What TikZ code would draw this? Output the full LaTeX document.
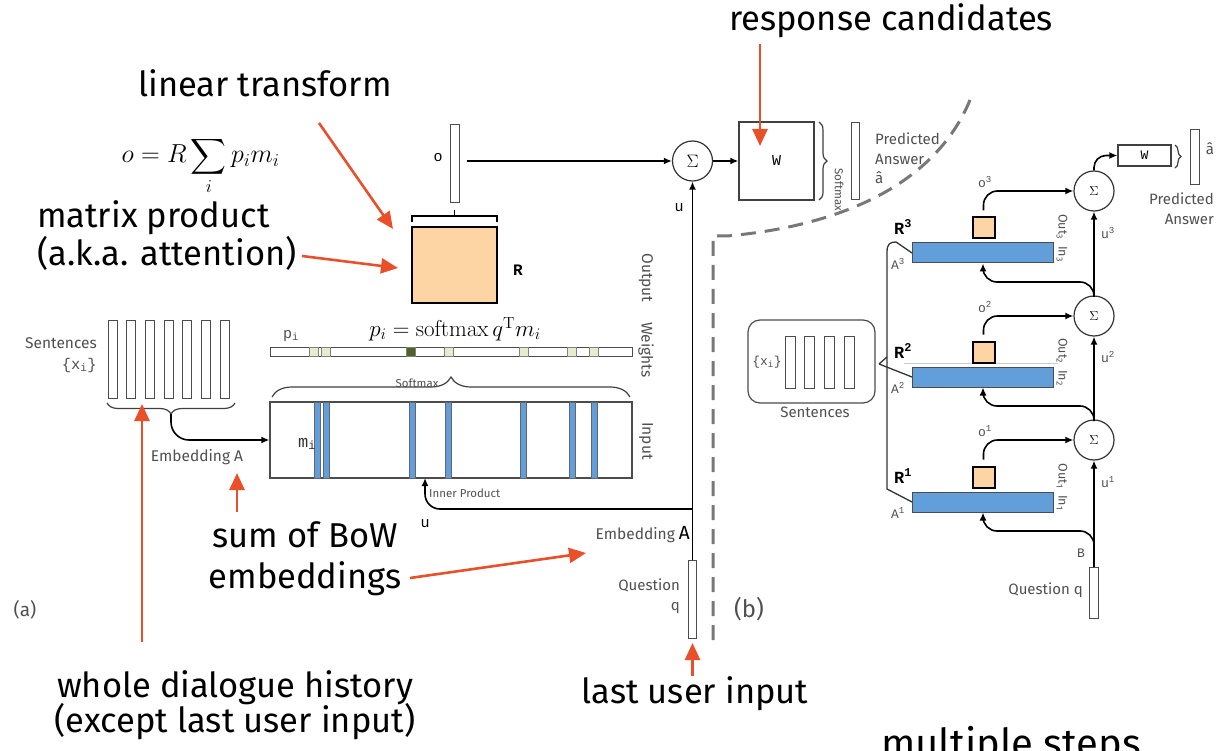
\documentclass[tikz,border=0pt]{standalone}
\usepackage{fix-cm}
\usepackage{exscale}
\usepackage[no-math]{fontspec}
\setmainfont{Fira Sans}
\setmonofont{Liberation Mono}
\usetikzlibrary{arrows.meta,decorations.pathreplacing,calc}

\definecolor{hl}{RGB}{233,80,42}
\definecolor{ora}{RGB}{253,213,165}
\definecolor{blu}{RGB}{98,158,217}
\definecolor{gtx}{RGB}{80,80,80}
\definecolor{lgr}{RGB}{228,237,206}
\definecolor{dgr}{RGB}{79,98,40}
\definecolor{dsh}{RGB}{120,120,120}

\newcommand\fBig{\fontsize{34.5}{40}\selectfont}
\newcommand\fLab{\fontsize{15.5}{18}\selectfont}
\newcommand\fTiny{\fontsize{11.5}{13}\selectfont}
\newcommand\fMono{\fontsize{15}{17}\selectfont\ttfamily}

\tikzset{
  note/.style={font=\fBig, inner sep=0pt},
  lab/.style={font=\fLab, text=gtx, inner sep=0pt},
  tiny/.style={font=\fTiny, text=gtx, inner sep=0pt},
  mono/.style={font=\fMono, inner sep=0pt},
  hlarrow/.style={draw=hl, line width=2.6pt, -{Triangle[length=17pt,width=15pt]}},
  flow/.style={draw=black, line width=1.6pt, -{Latex[length=8pt,width=7pt]}},
  vecbox/.style={draw=black!70, line width=1pt, fill=white, inner sep=0pt, minimum width=9pt},
  sumnode/.style={circle, draw=black!80, line width=1.2pt, fill=white, minimum size=40pt, inner sep=0pt},
  mat/.style={draw=black, line width=2.2pt, fill=ora, inner sep=0pt},
  layer/.style={draw=black!70, line width=1pt, fill=blu, inner sep=0pt, minimum width=141pt, minimum height=20pt},
  slot/.style={draw=black!60, line width=0.6pt, fill=blu, inner sep=0pt, minimum width=6pt, minimum height=76pt},
  cell/.style={draw=black!50, line width=0.6pt, fill=lgr, inner sep=0pt, minimum width=9pt, minimum height=9pt},
  curly/.style={decorate, decoration={brace, amplitude=#1}, draw=black!75, line width=1.2pt},
}

\begin{document}
\begin{tikzpicture}[x=1pt,y=-1pt]
\clip (0,0) rectangle (1226,751);
\fill[white] (0,0) rectangle (1226,751);

% ================= (a) single hop =================
% story sentences
\foreach \i in {0,...,6}
  \node[vecbox, minimum height=78pt] (x\i) at ({112.5+18.67*\i},359) {};
\node[lab, anchor=east] (sentL) at (97,343) {Sentences};
\node[lab, anchor=east, font=\fLab\ttfamily] (xiL) at (97,365) {\{x\textsubscript{i}\}};
\draw[curly=11pt] (235,403) -- (107,403);
\coordinate (btip) at (171,414);
\node[lab] (embA) at (197,457) {Embedding A};

% memory (input)
\node[draw=black!70, line width=1.2pt, minimum width=362pt, minimum height=76pt, inner sep=0pt] (mem) at (451,440) {};
\foreach \x [count=\k] in {317.5,326,412,448.5,523.5,572,594.5}
  \node[slot] (slot\k) at (\x,440) {};
\node[font=\fontsize{17}{19}\selectfont\ttfamily, text=black!80, inner sep=0pt] (miL) at (307,444) {m\textsubscript{i}};
\draw[flow, rounded corners=18pt] (btip) |- (mem.west);

% attention weights
\node[draw=black!70, line width=1pt, fill=white, minimum width=362pt, minimum height=9pt, inner sep=0pt] (wts) at (451,351.5) {};
\foreach \x [count=\k] in {313.5,326,448.5,523.5,572,594}
  \node[cell] (cell\k) at (\x,351.5) {};
\node[cell, fill=dgr] (cellD) at (411,351.5) {};
\node[mono, text=gtx] (piL) at (291,336) {p\textsubscript{i}};
\node[font=\fontsize{23}{27}\selectfont, inner sep=0pt] (pform) at (455,329) {$p_i = \mathrm{softmax}\,q^{\mathrm{T}} m_i$};
\draw[curly=20pt] (272,397) -- (630,397);
\node[tiny] (smL) at (417,383) {Softmax};

% side captions
\node[lab, rotate=-90] (outC) at (646,278) {Output};
\node[lab, rotate=-90] (wtsC) at (646,350) {Weights};
\node[lab, rotate=-90] (inC) at (646,441) {Input};

% output projection R and response vector o
\node[mat, minimum width=85pt, minimum height=76pt] (R) at (454.5,265) {};
\node[font=\fontsize{16}{18}\selectfont\ttfamily\bfseries, inner sep=0pt] (RL) at (518,270) {R};
\draw[black, line width=1.6pt] (412,222) -- (412,216) -- (497,216) -- (497,222)
  (454.5,216) -- (454.5,210);
\node[vecbox, minimum height=78pt] (ov) at (454.5,164) {};
\node[mono] (oL) at (438,158) {o};

% sum, candidates W, answer
\node[sumnode, font=\fontsize{18}{20}\selectfont] (sigA) at (692.5,161) {$\Sigma$};
\draw[flow] ($(ov.east|-sigA.center)+(7,0)$) -- (sigA.west);
\node[draw=black!75, line width=1.3pt, minimum width=75pt, minimum height=78pt, inner sep=0pt, font=\fontsize{15}{17}\selectfont\ttfamily] (W) at (776.5,161) {W};
\draw[flow] (sigA.east) -- (W.west);
\draw[curly=8pt] (819,122) -- (819,200);
\node[tiny, rotate=-90] (smR) at (839,190) {Softmax};
\node[vecbox, minimum width=8pt, minimum height=77pt] (ans) at (855,161.5) {};
\node[lab, align=left, anchor=north west, font=\fontsize{15}{19.5}\selectfont] (predA) at (875,133) {Predicted\\Answer\\â};

% question
\node[vecbox, minimum width=8pt, minimum height=78pt] (qA) at (692.5,599) {};
\draw[flow] (qA.north) -- (sigA.south);
\node[mono] (uA) at (679,208) {u};
\coordinate (jn) at (692.5,509);
\coordinate (ipin) at (425,478);
\draw[flow, rounded corners=15pt] (jn) -| (ipin);
\node[tiny, anchor=west] (ipL) at (429,493) {Inner Product};
\node[mono] (uA2) at (425,524) {u};
\node[lab, anchor=base east] (embB) at (690,539) {Embedding \textcolor{black}{\fontsize{19}{21}\selectfont A}};
\node[lab, anchor=east, align=right, font=\fontsize{15}{20}\selectfont] (qLab) at (680,596) {Question\\q};

% annotations
\node[note, anchor=base] (linL) at (265,97) {linear transform};
\node[font=\fontsize{26}{30}\selectfont, inner sep=0pt, anchor=base] (oform) at (200.5,163) {$\displaystyle o = R\sum_i p_i m_i$};
\node[note, anchor=base west] (matL) at (37,228) {matrix product};
\node[note, anchor=base west] (akaL) at (37,266) {(a.k.a. attention)};
\coordinate (linS) at (319,123);
\coordinate (linT) at (393,229);
\draw[hlarrow] (linS) -- (linT);
\coordinate (akaS) at (302,256);
\coordinate (akaT) at (398,268);
\draw[hlarrow] (akaS) -- (akaT);
\node[note, anchor=base] (sumL) at (305,547) {sum of BoW};
\node[note, anchor=base] (embL) at (305,588) {embeddings};
\coordinate (bowS) at (237,512);
\coordinate (bowT) at (237,473);
\draw[hlarrow] (bowS) -- (bowT);
\coordinate (embS) at (410,578);
\coordinate (embT) at (586,553);
\draw[hlarrow] (embS) -- (embT);
\node[note, anchor=base] (whoL) at (235,697) {whole dialogue history};
\node[note, anchor=base] (excL) at (235,732) {(except last user input)};
\coordinate (histS) at (142,642);
\coordinate (histT) at (142,404);
\draw[hlarrow] (histS) -- (histT);
\node[note, anchor=base] (lastL) at (695,703) {last user input};
\coordinate (lastS) at (692.5,676);
\coordinate (lastT) at (692.5,643);
\draw[hlarrow] (lastS) -- (lastT);
\node[note, anchor=base] (respL) at (891,31) {response candidates};
\coordinate (respS) at (760,44);
\coordinate (respT) at (760,146);
\draw[hlarrow] (respS) -- (respT);
\node[lab, font=\fontsize{19}{22}\selectfont] (aL) at (25,610) {(a)};
\node[lab, font=\fontsize{24}{28}\selectfont] (bL) at (749,609) {(b)};

% separator
\draw[dsh, line width=3pt, dash pattern=on 15pt off 9pt]
  (713,640) -- (713,236) -- (727,236) .. controls (840,226) and (935,185) .. (970,100);

% ================= (b) multiple hops =================
\draw[black!20, line width=0.8pt] (904,363) -- (1058,363);
\foreach \k/\by/\sy in {1/502/440, 2/377/316, 3/253/191}{
  \node[layer] (L\k) at (983,\by) {};
  \node[mat, line width=2pt, minimum width=22pt, minimum height=21pt] (M\k) at (983.5,{\by-25}) {};
  \node[sumnode, font=\fontsize{13}{15}\selectfont] (S\k) at (1094,\sy) {$\Sigma$};
  \draw[flow, rounded corners=14pt] ($(M\k.north)+(0,-6)$) |- (S\k.west);
  \node[font=\fontsize{13}{15}\selectfont\ttfamily, text=gtx, inner sep=0pt] (oL\k) at (985,{\sy-9}) {o\textsuperscript{\k}};
  \node[font=\fontsize{17}{19}\selectfont\ttfamily\bfseries, inner sep=0pt] (RL\k) at (903,{\by-26}) {R\textsuperscript{\k}};
  \node[font=\fontsize{13}{15}\selectfont\ttfamily, text=gtx, inner sep=0pt] (AL\k) at (898,{\by+11}) {A\textsuperscript{\k}};
  \node[tiny, rotate=-90, font=\fontsize{12.5}{14}\selectfont] (oi\k) at (1062,{\by-15}) {Out\textsubscript{\k}\ \ In\textsubscript{\k}};
  \draw[flow, rounded corners=14pt] (1094,{\by+44}) |- (983,{\by+29}) -- (L\k.south);
  \node[font=\fontsize{13}{15}\selectfont\ttfamily, text=gtx, inner sep=0pt] (uL\k) at (1108,{\by-20}) {u\textsuperscript{\k}};
}
\node[vecbox, minimum width=9pt, minimum height=51pt] (qB) at (1094,592.5) {};
\draw[flow] (qB.north) -- (S1.south);
\draw[flow] (S1.north) -- (S2.south);
\draw[flow] (S2.north) -- (S3.south);
\node[font=\fontsize{13}{15}\selectfont\ttfamily, text=gtx, inner sep=0pt] (BL) at (1081,553) {B};
\node[lab, anchor=east, font=\fontsize{15}{17}\selectfont] (qBL) at (1083,590) {Question q};

% final answer
\node[draw=black!75, line width=1.2pt, minimum width=53pt, minimum height=21pt, inner sep=0pt, font=\fontsize{13}{15}\selectfont\ttfamily] (W2) at (1144.5,155.5) {W};
\draw[flow, rounded corners=12pt] (S3.north) |- (W2.west);
\draw[curly=6pt] (1175,145) -- (1175,168);
\node[vecbox, minimum width=9pt, minimum height=55pt] (ansB) at (1194.5,157.5) {};
\node[lab, font=\fontsize{15}{17}\selectfont] (ahat) at (1210,149) {â};
\node[lab, anchor=north east, align=right, font=\fontsize{15}{19.5}\selectfont] (predB) at (1214,193) {Predicted\\Answer};

% sentence store
\node[draw=black!70, line width=1.2pt, rounded corners=12pt, minimum width=127pt, minimum height=83pt, inner sep=0pt] (sentBox) at (811.5,361.5) {};
\foreach \x [count=\k] in {790,809.5,829,849}
  \node[vecbox, minimum width=10pt, minimum height=52pt] (sv\k) at (\x,362) {};
\node[font=\fontsize{13}{15}\selectfont\ttfamily, text=gtx, inner sep=0pt] (xiB) at (767,362) {\{x\textsubscript{i}\}};
\node[lab, font=\fontsize{15}{17}\selectfont] (sentB) at (815,412) {Sentences};

% embedding fan-out to the layers
\coordinate (fork) at (879,364);
\draw[black!80, line width=1.3pt] (L1.west) -- (887,489) -- (887,252)
  .. controls (887,244) and (890,242) .. (896,242) -- (L3.west);
\draw[black!80, line width=1.3pt] (fork) -- (887,357);
\draw[black!80, line width=1.3pt] (fork) -- (L2.west);

\node[font=\fontsize{40}{46}\selectfont, inner sep=0pt, anchor=base] (multL) at (1011,757) {multiple steps};
\end{tikzpicture}
\end{document}
